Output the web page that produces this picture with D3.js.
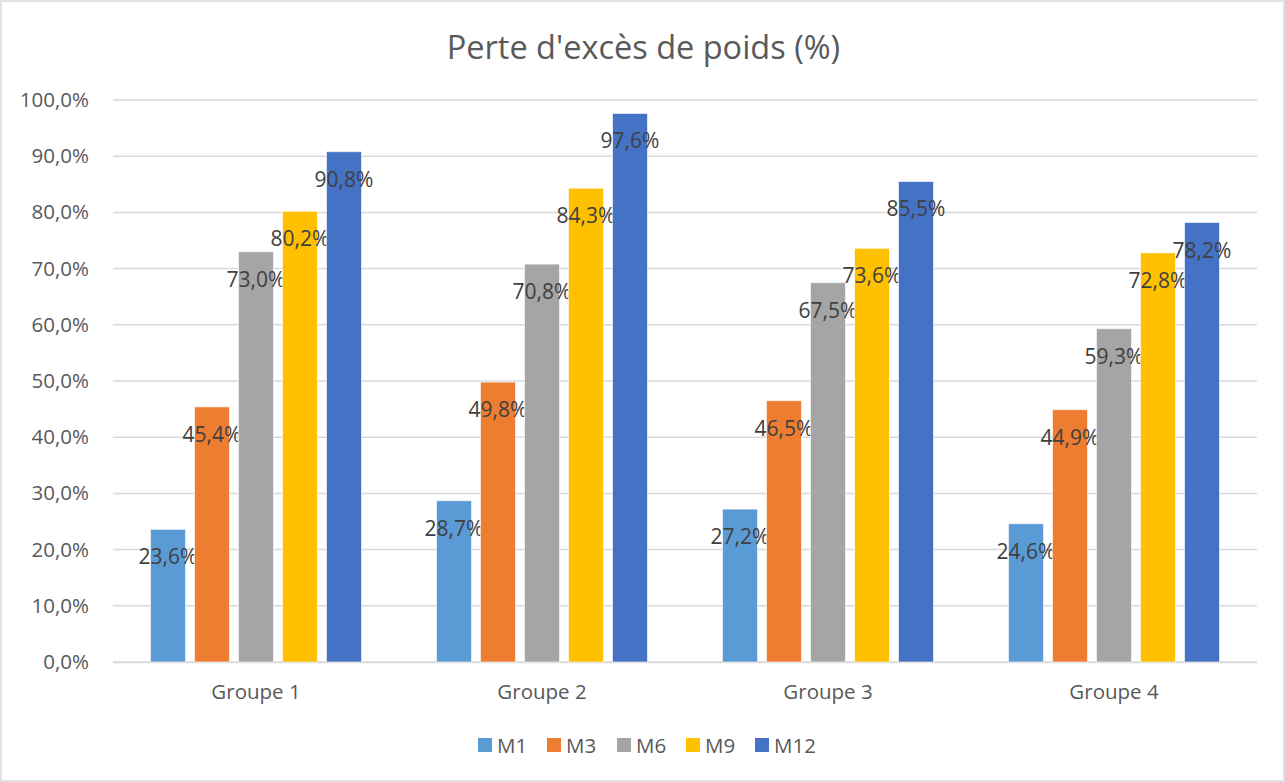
<!DOCTYPE html>
<html>
<head>
<meta charset="utf-8">
<script src="https://cdn.jsdelivr.net/npm/d3@7"></script>
<style>
  html, body { margin: 0; padding: 0; background: #fff; }
  svg { display: block; font-family: "Open Sans", Lato, sans-serif; }
</style>
</head>
<body>
<div id="chart"></div>
<script>
// données
const groups = ['Groupe 1', 'Groupe 2', 'Groupe 3', 'Groupe 4'];
const seriesNames = ['M1', 'M3', 'M6', 'M9', 'M12'];
const seriesColors = ['#5B9BD5', '#ED7D31', '#A5A5A5', '#FFC000', '#4472C4'];
const m1 = [23.6, 28.7, 27.2, 24.6];
const m3 = [45.4, 49.8, 46.5, 44.9];
const m6 = [73.0, 70.8, 67.5, 59.3];
const m9 = [80.2, 84.3, 73.6, 72.8];
const m12 = [90.8, 97.6, 85.5, 78.2];
const yTicks = [0, 10, 20, 30, 40, 50, 60, 70, 80, 90, 100];

const seriesValues = [m1, m3, m6, m9, m12];
const fmt = v => v.toFixed(1).replace('.', ',') + '%';

const width = 1285, height = 782;
const margin = { top: 100, right: 28, bottom: 120, left: 113 };
const font = '"Open Sans", sans-serif';

const svg = d3.select('#chart').append('svg')
    .attr('width', width)
    .attr('height', height);

// cadre
svg.append('rect')
    .attr('x', 1).attr('y', 1)
    .attr('width', width - 2).attr('height', height - 2)
    .attr('fill', '#fff')
    .attr('stroke', '#d9d9d9')
    .attr('stroke-width', 1.5);

// échelles
const x0 = d3.scaleBand()
    .domain(groups)
    .range([margin.left, width - margin.right]);

const x1 = d3.scaleBand()
    .domain(seriesNames)
    .range([37.5, x0.bandwidth() - 37.5])
    .paddingInner(9 / 44);

const y = d3.scaleLinear()
    .domain([0, 100])
    .range([height - margin.bottom, margin.top]);

// titre
svg.append('text')
    .attr('x', width / 2 + 1)
    .attr('y', 59)
    .attr('text-anchor', 'middle')
    .attr('fill', '#595959')
    .style('font-size', '32.5px')
    .text("Perte d'excès de poids (%)");

// quadrillage
svg.append('g')
    .selectAll('line')
    .data(yTicks)
    .join('line')
    .attr('x1', margin.left)
    .attr('x2', width - margin.right)
    .attr('y1', d => y(d))
    .attr('y2', d => y(d))
    .attr('stroke', '#d9d9d9')
    .attr('stroke-width', 1.5);

// axe y
const yAxis = svg.append('g')
    .attr('transform', `translate(${margin.left},0)`)
    .call(d3.axisLeft(y).tickValues(yTicks).tickFormat(fmt).tickSize(0).tickPadding(24));
yAxis.select('.domain').remove();
yAxis.selectAll('text')
    .attr('fill', '#595959')
    .style('font-family', font)
    .style('font-size', '20.5px');

// axe x
const xAxis = svg.append('g')
    .attr('transform', `translate(0,${y(0)})`)
    .call(d3.axisBottom(x0).tickSize(0).tickPadding(22));
xAxis.select('.domain').attr('stroke', '#d9d9d9').attr('stroke-width', 1.5);
xAxis.selectAll('text')
    .attr('fill', '#595959')
    .style('font-family', font)
    .style('font-size', '20.5px');

// barres
const groupG = svg.append('g')
    .selectAll('g')
    .data(groups)
    .join('g')
    .attr('transform', d => `translate(${x0(d)},0)`);

const cells = groupG.selectAll('g')
    .data((g, gi) => seriesNames.map((s, si) => ({ s, si, v: seriesValues[si][gi] })))
    .join('g');

cells.append('rect')
    .attr('x', d => x1(d.s))
    .attr('y', d => y(d.v))
    .attr('width', x1.bandwidth())
    .attr('height', d => y(0) - y(d.v))
    .attr('fill', d => seriesColors[d.si])
    .attr('stroke', 'rgba(255,255,255,0.6)')
    .attr('stroke-width', 1);

// étiquettes de données
cells.append('text')
    .attr('x', d => x1(d.s) + x1.bandwidth() / 2)
    .attr('y', d => y(d.v) + 35)
    .attr('text-anchor', 'middle')
    .attr('fill', '#404040')
    .style('font-size', '21px')
    .text(d => fmt(d.v));

// légende
const legendX = [478, 547, 617, 686, 755];
const legend = svg.append('g')
    .selectAll('g')
    .data(seriesNames)
    .join('g')
    .attr('transform', (d, i) => `translate(${legendX[i]},738)`);

legend.append('rect')
    .attr('width', 14)
    .attr('height', 14)
    .attr('fill', (d, i) => seriesColors[i]);

legend.append('text')
    .attr('x', 19)
    .attr('y', 15)
    .attr('fill', '#595959')
    .style('font-size', '20.5px')
    .text(d => d);
</script>
</body>
</html>
